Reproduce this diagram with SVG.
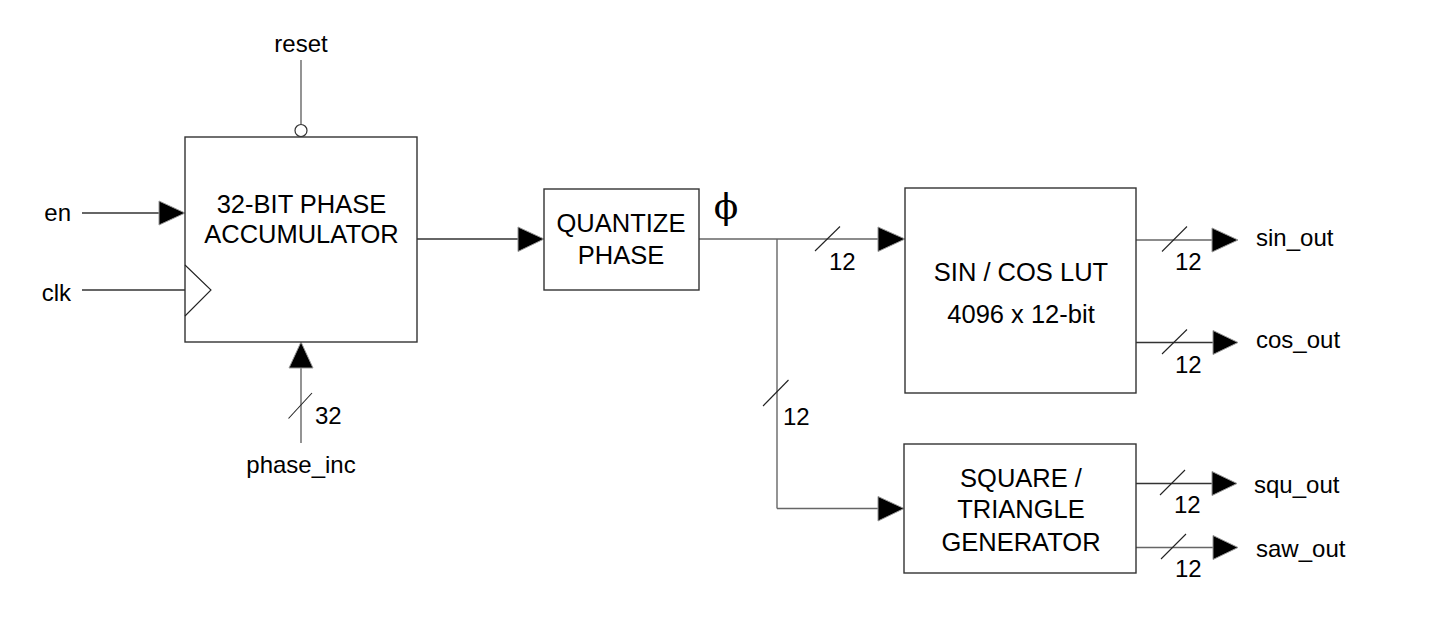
<svg xmlns="http://www.w3.org/2000/svg" width="1433" height="619" viewBox="0 0 1433 619">
<style>
.box{fill:#fff;stroke:#333;stroke-width:1.4}
.w{fill:none;stroke:#333;stroke-width:1.4}
.g{fill:none;stroke:#666;stroke-width:1.4}
.s{fill:none;stroke:#222;stroke-width:1.1}
.arr{fill:#000;stroke:#999;stroke-width:1}
.t{font-family:"Liberation Sans",Arial,sans-serif;font-size:25.5px;fill:#000;text-anchor:middle}
.l{font-family:"Liberation Sans",Arial,sans-serif;font-size:24px;fill:#000}
</style>
<rect width="1433" height="619" fill="#fff"/>
<g id="connectors">
  <line class="g" x1="301" y1="60" x2="301" y2="124"/>
  <circle cx="301" cy="130.5" r="6" fill="#fff" stroke="#333" stroke-width="1.2"/>
  <line class="w" x1="82" y1="213" x2="159" y2="213"/>
  <polygon class="arr" points="159,201 185,213 159,225"/>
  <line class="w" x1="82" y1="290" x2="185" y2="290"/>
  <line class="g" x1="301" y1="443" x2="301" y2="368"/>
  <polygon class="arr" points="289,368 301,342 313,368"/>
  <line class="s" x1="288.5" y1="418.5" x2="312" y2="393"/>
  <line class="w" x1="417" y1="239" x2="518" y2="239"/>
  <polygon class="arr" points="518,227 544,239 518,251.5"/>
  <line class="g" x1="699" y1="239" x2="878" y2="239"/>
  <polygon class="arr" points="878,227 905,239 878,251.5"/>
  <line class="s" x1="815" y1="251" x2="840" y2="226.5"/>
  <line class="g" x1="777" y1="239" x2="777" y2="508.5"/>
  <line class="g" x1="777" y1="508.5" x2="878" y2="508.5"/>
  <polygon class="arr" points="878,496.5 904,508.5 878,521"/>
  <line class="s" x1="763" y1="406" x2="788.5" y2="380"/>
  <line class="g" x1="1136" y1="240" x2="1212" y2="240"/>
  <polygon class="arr" points="1212,228 1238,240 1212,252"/>
  <line class="s" x1="1162" y1="251.5" x2="1187" y2="226.5"/>
  <line class="w" x1="1136" y1="342.5" x2="1213" y2="342.5"/>
  <polygon class="arr" points="1213,330.5 1238,342.5 1213,354.5"/>
  <line class="s" x1="1162" y1="354" x2="1187" y2="329.5"/>
  <line class="w" x1="1136" y1="483.5" x2="1212" y2="483.5"/>
  <polygon class="arr" points="1212,471.5 1237,483.5 1212,495.5"/>
  <line class="s" x1="1160" y1="495" x2="1185" y2="470"/>
  <line class="g" x1="1136" y1="547.5" x2="1213" y2="547.5"/>
  <polygon class="arr" points="1213,535.5 1238,547.5 1213,559.5"/>
  <line class="s" x1="1161" y1="559" x2="1186" y2="534"/>
</g>
<g id="labels">
  <text class="l" x="301" y="52" text-anchor="middle">reset</text>
  <text class="l" x="71" y="221" text-anchor="end">en</text>
  <text class="l" x="71" y="301" text-anchor="end">clk</text>
  <text class="l" x="315" y="424">32</text>
  <text class="l" x="301" y="473" text-anchor="middle">phase_inc</text>
  <text x="726" y="219" font-family="DejaVu Serif,serif" font-size="36" text-anchor="middle">ϕ</text>
  <text class="l" x="829" y="270">12</text>
  <text class="l" x="783" y="425">12</text>
  <text class="l" x="1175" y="270">12</text>
  <text class="l" x="1175" y="373">12</text>
  <text class="l" x="1174" y="513">12</text>
  <text class="l" x="1175" y="577">12</text>
  <text class="l" x="1256" y="246">sin_out</text>
  <text class="l" x="1256" y="348">cos_out</text>
  <text class="l" x="1254" y="493">squ_out</text>
  <text class="l" x="1256" y="557">saw_out</text>
</g>
<g id="accumulator">
  <rect class="box" x="185" y="137" width="232" height="205"/>
  <polyline class="s" points="185,265 211,290 185,316"/>
  <text class="t" x="301.5" y="213">32-BIT PHASE</text>
  <text class="t" x="301.5" y="243">ACCUMULATOR</text>
</g>
<g id="quantize">
  <rect class="box" x="544" y="189" width="155" height="101"/>
  <text class="t" x="621" y="232">QUANTIZE</text>
  <text class="t" x="621" y="264">PHASE</text>
</g>
<g id="lut">
  <rect class="box" x="905" y="188" width="231" height="205"/>
  <text class="t" x="1021" y="281">SIN / COS LUT</text>
  <text class="t" x="1021" y="323">4096 x 12-bit</text>
</g>
<g id="squaregen">
  <rect class="box" x="904" y="444" width="232" height="129"/>
  <text class="t" x="1021" y="487">SQUARE /</text>
  <text class="t" x="1021" y="518">TRIANGLE</text>
  <text class="t" x="1021" y="551">GENERATOR</text>
</g>
</svg>
